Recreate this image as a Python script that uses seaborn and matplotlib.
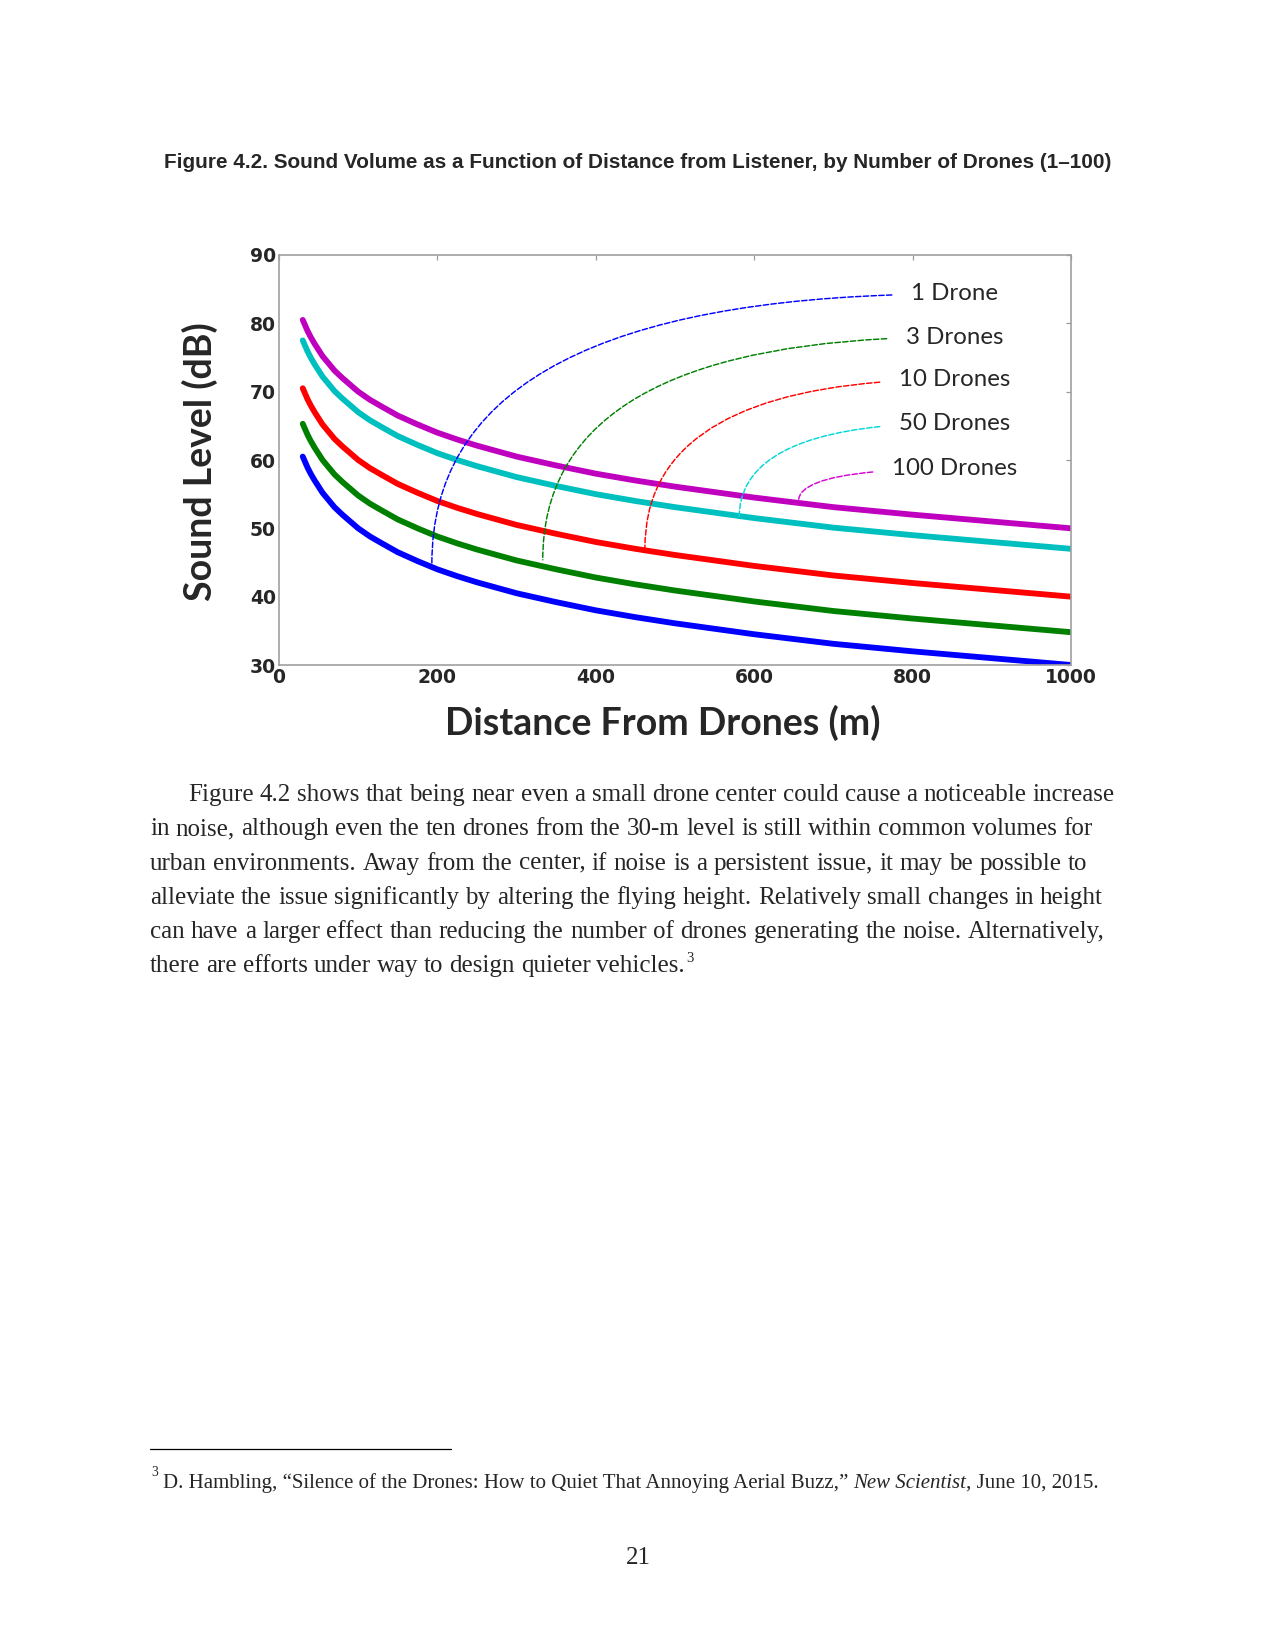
import matplotlib
matplotlib.use("Agg")
import matplotlib.pyplot as plt
import pandas as pd
import seaborn as sns

# ---------------- data ----------------
distance_m = [30, 33, 36, 40, 45, 50, 55, 60, 70, 80, 90, 100, 115, 130, 150, 175, 200,
              225, 250, 300, 350, 400, 450, 500, 600, 700, 800, 900, 1000]
level_1_drone = [60.5, 59.7, 58.9, 58.0, 57.0, 56.1, 55.2, 54.5, 53.1, 52.0, 51.0, 50.0,
                 48.8, 47.8, 46.5, 45.2, 44.0, 43.0, 42.1, 40.5, 39.2, 38.0, 37.0, 36.1,
                 34.5, 33.1, 32.0, 31.0, 30.0]
level_3_drones = [65.3, 64.5, 63.7, 62.8, 61.8, 60.9, 60.0, 59.3, 57.9, 56.8, 55.8, 54.8,
                  53.6, 52.6, 51.3, 50.0, 48.8, 47.8, 46.9, 45.3, 44.0, 42.8, 41.8, 40.9,
                  39.3, 37.9, 36.8, 35.8, 34.8]
level_10_drones = [70.5, 69.7, 68.9, 68.0, 67.0, 66.1, 65.2, 64.5, 63.1, 62.0, 61.0, 60.0,
                   58.8, 57.8, 56.5, 55.2, 54.0, 53.0, 52.1, 50.5, 49.2, 48.0, 47.0, 46.1,
                   44.5, 43.1, 42.0, 41.0, 40.0]
level_50_drones = [77.5, 76.7, 75.9, 75.0, 74.0, 73.1, 72.2, 71.5, 70.1, 69.0, 68.0, 67.0,
                   65.8, 64.8, 63.5, 62.2, 61.0, 60.0, 59.1, 57.5, 56.2, 55.0, 54.0, 53.1,
                   51.5, 50.1, 49.0, 48.0, 47.0]
level_100_drones = [80.5, 79.7, 78.9, 78.0, 77.0, 76.1, 75.2, 74.5, 73.1, 72.0, 71.0, 70.0,
                    68.8, 67.8, 66.5, 65.2, 64.0, 63.0, 62.1, 60.5, 59.2, 58.0, 57.0, 56.1,
                    54.5, 53.1, 52.0, 51.0, 50.0]
series_names = ["1 Drone", "3 Drones", "10 Drones", "50 Drones", "100 Drones"]
series_levels = [level_1_drone, level_3_drones, level_10_drones, level_50_drones, level_100_drones]

# points on the curves that each label points to
annot_distance = [193, 333, 462, 581, 656]
annot_level = [44.9, 45.4, 47.1, 51.6, 54.0]

x_ticks = [0, 200, 400, 600, 800, 1000]
y_ticks = [30, 40, 50, 60, 70, 80, 90]

title_text = "Figure 4.2. Sound Volume as a Function of Distance from Listener, by Number of Drones (1\u2013100)"
x_label = "Distance From Drones (m)"
y_label = "Sound Level (dB)"
body_lines = [
    "Figure 4.2 shows that being near even a small drone center could cause a noticeable increase",
    "in noise, although even the ten drones from the 30-m level is still within common volumes for",
    "urban environments. Away from the center, if noise is a persistent issue, it may be possible to",
    "alleviate the issue significantly by altering the flying height. Relatively small changes in height",
    "can have a larger effect than reducing the number of drones generating the noise. Alternatively,",
    "there are efforts under way to design quieter vehicles.",
]
footnote_parts = ["D. Hambling, \u201cSilence of the Drones: How to Quiet That Annoying Aerial Buzz,\u201d",
                  "New Scientist", ", June 10, 2015."]
page_number = "21"

# ---------------- styling / layout ----------------
line_colors = ["#0000ff", "#008000", "#ff0000", "#00bfbf", "#bf00bf"]
dash_colors = ["#0000ff", "#008000", "#ff0000", "#00d8d8", "#d800d8"]
label_pos_x = 853
label_pos_y = [84.3, 78.0, 71.8, 65.4, 58.7]
body_right_px = [1115, 1092, 1087, 1103, 1105, 685]

W, H, DPI = 1275, 1650, 150
sns.set_style("white")
plt.rcParams["font.family"] = ["DejaVu Sans"]

fig = plt.figure(figsize=(W / DPI, H / DPI), dpi=DPI)
fig.patch.set_facecolor("white")


def fx(x):
    return x / W


def fy(y):
    return 1 - y / H


ax = fig.add_axes([fx(279), fy(665), (1071 - 279) / W, (665 - 255) / H])

df = pd.concat([pd.DataFrame({"Distance": distance_m, "Level": lv, "Series": nm})
                for nm, lv in zip(series_names, series_levels)], ignore_index=True)
sns.lineplot(data=df, x="Distance", y="Level", hue="Series", hue_order=series_names,
             palette=dict(zip(series_names, line_colors)), linewidth=2.8,
             legend=False, estimator=None, sort=False, ax=ax)
for ln in ax.get_lines():
    ln.set_solid_joinstyle("round")

ax.set_xlim(0, 1000)
ax.set_ylim(30, 90)
ax.set_xticks(x_ticks)
ax.set_yticks(y_ticks)
ax.set_xlabel("")
ax.set_ylabel("")
ax.tick_params(direction="in", top=True, right=True, length=2.5, width=0.6,
               color="#9a9a9a", pad=1.5, labelsize=9)
for lab in ax.get_xticklabels() + ax.get_yticklabels():
    lab.set_fontweight("bold")
for s in ax.spines.values():
    s.set_visible(True)
    s.set_color("#a0a0a0")
    s.set_linewidth(0.8)

for i, nm in enumerate(series_names):
    ax.annotate(nm, xy=(annot_distance[i], annot_level[i]), xycoords="data",
                xytext=(label_pos_x, label_pos_y[i]), textcoords="data",
                ha="center", va="center", fontsize=11.5, family=["Lato", "DejaVu Sans"],
                arrowprops=dict(arrowstyle="-", linestyle="--", color=dash_colors[i], lw=0.7,
                                connectionstyle="angle3,angleA=0,angleB=90",
                                shrinkA=7, shrinkB=0))

fig.text(fx(663), fy(723), x_label, ha="center", va="center", fontsize=18,
         fontweight="bold", family=["Lato", "DejaVu Sans"])
fig.text(fx(200), fy(462), y_label, ha="center", va="center", rotation=90, fontsize=18,
         fontweight="bold", family=["Lato", "DejaVu Sans"])

# ---------------- page text ----------------
fig.canvas.draw()
rend = fig.canvas.get_renderer()


def measure(s, **kw):
    t = fig.text(0, 0, s, **kw)
    w = t.get_window_extent(rend).width
    t.remove()
    return w


serif = ["Liberation Serif", "DejaVu Serif"]
sans = ["Liberation Sans", "DejaVu Sans"]

# title, fitted to its width in the reference
tkw = dict(family=sans, fontweight="bold", fontsize=10)
tw = measure(title_text, **tkw)
tkw["fontsize"] = 10 * (1115 - 161) / tw
fig.text(fx(638), fy(168), title_text, ha="center", va="baseline", **tkw)

# body text: words spaced so each line ends where it does in the reference
bkw = dict(family=serif, fontsize=12)
base0, step = 801, 34.3
for i, line in enumerate(body_lines):
    yb = base0 + i * step
    x0 = 188 if i == 0 else 150
    words = line.split()
    widths = [measure(w_, **bkw) for w_ in words]
    gap = (body_right_px[i] - x0 - sum(widths)) / (len(words) - 1)
    x = x0
    for w_, wd in zip(words, widths):
        fig.text(fx(x), fy(yb), w_, ha="left", va="baseline", **bkw)
        x += wd + gap
    if i == len(body_lines) - 1:
        fig.text(fx(x - gap + 1.5), fy(yb - 11), "3", ha="left", va="baseline",
                 family=serif, fontsize=7)

# footnote rule and footnote
fig.add_artist(plt.Line2D([fx(150), fx(451)], [fy(1449), fy(1449)], color="black", lw=0.6))
fig.text(fx(151), fy(1476), "3", ha="left", va="baseline", family=serif, fontsize=6.5)
fkw = dict(family=serif, fontsize=10)
fsp = measure("a a", **fkw) - measure("aa", **fkw)
x = 163
w1 = measure(footnote_parts[0], **fkw)
fig.text(fx(x), fy(1488), footnote_parts[0], ha="left", va="baseline", **fkw)
x += w1 + fsp
w2 = measure(footnote_parts[1], style="italic", **fkw)
fig.text(fx(x), fy(1488), footnote_parts[1], ha="left", va="baseline", style="italic", **fkw)
x += w2
fig.text(fx(x), fy(1488), footnote_parts[2], ha="left", va="baseline", **fkw)

fig.text(fx(638), fy(1564), page_number, ha="center", va="baseline", family=serif, fontsize=12)

fig.savefig("out.png", dpi=DPI, facecolor="white")
